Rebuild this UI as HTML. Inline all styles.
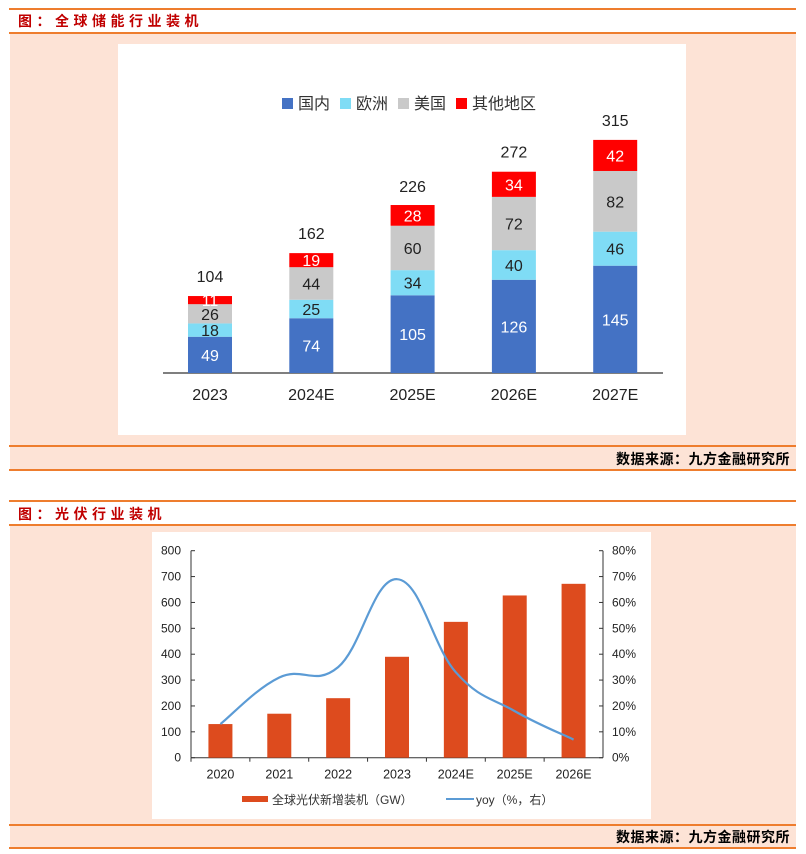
<!DOCTYPE html>
<html><head><meta charset="utf-8"><style>
body{margin:0;width:806px;height:854px;background:#fff;font-family:"Liberation Sans","Noto Sans CJK SC",sans-serif;position:relative;overflow:hidden}
.line{position:absolute;left:9px;width:787px;height:2px;background:#ee7d2e}
.title{position:absolute;left:18px;font-size:14px;font-weight:bold;color:#c00000;letter-spacing:4.5px}
.src{position:absolute;right:16px;font-size:14px;font-weight:bold;color:#000;letter-spacing:0.5px}
.pink{position:absolute;left:10px;width:786px;background:#fde3d6}
</style></head><body>
<div class="line" style="top:8px"></div>
<div class="title" style="top:11px">图：全球储能行业装机</div>
<div class="line" style="top:32px"></div>
<div class="pink" style="top:34px;height:436px"></div>
<div class="line" style="top:445px"></div>
<div class="src" style="top:449px">数据来源：九方金融研究所</div>
<div class="line" style="top:469px"></div>

<div class="line" style="top:500px"></div>
<div class="title" style="top:504px">图：光伏行业装机</div>
<div class="line" style="top:524px"></div>
<div class="pink" style="top:526px;height:322px"></div>
<div class="line" style="top:824px"></div>
<div class="src" style="top:827px">数据来源：九方金融研究所</div>
<div class="line" style="top:847px"></div>

<svg id="c1" style="position:absolute;left:118px;top:44px" width="568" height="391"></svg>
<svg id="c2" style="position:absolute;left:152px;top:532px" width="499" height="287"></svg>
<script>
const cats1=["2023","2024E","2025E","2026E","2027E"];
const dom=[49,74,105,126,145];
const eu=[18,25,34,40,46];
const us=[26,44,60,72,82];
const oth=[11,19,28,34,42];
const tot=[104,162,226,272,315];
const cats2=["2020","2021","2022","2023","2024E","2025E","2026E"];
const pv=[130,170,230,390,525,627,672];
const yoy=[13,31,35,69,33,18,7];
const yTicks=[0,100,200,300,400,500,600,700,800];
const y2Ticks=["0%","10%","20%","30%","40%","50%","60%","70%","80%"];
const NS="http://www.w3.org/2000/svg";
function mk(svg,t,a,txt){const e=document.createElementNS(NS,t);for(const k in a)e.setAttribute(k,a[k]);if(txt!==undefined)e.textContent=txt;svg.appendChild(e);return e;}
// chart 1
const s1=document.getElementById('c1');
mk(s1,'rect',{x:0,y:0,width:568,height:391,fill:'#fff'});
const base=329, k1=0.74, x1=i=>92+i*101.3, bw=44;
const y1=v=>base-v*k1;
mk(s1,'line',{x1:45,y1:base,x2:545,y2:base,stroke:'#555','stroke-width':1.5});
const series=[[dom,'#4472c4','#fff'],[eu,'#7fdcf5','#222'],[us,'#c9c9c9','#222'],[oth,'#ff0000','#fff']];
const names=['bar-domestic','bar-europe','bar-us','bar-other'];
cats1.forEach((c,i)=>{let acc=0;
 series.forEach((s,j)=>{const v=s[0][i];
  const r=mk(s1,'rect',{x:x1(i)-bw/2,y:y1(acc+v),width:bw,height:v*k1,fill:s[1]});
  
  
  mk(s1,'text',{x:x1(i),y:y1(acc+v/2)+6,'text-anchor':'middle','font-size':16,fill:s[2]},v);
  acc+=v;});
 mk(s1,'text',{x:x1(i),y:y1(tot[i])-14,'text-anchor':'middle','font-size':16,fill:'#222'},tot[i]);
 mk(s1,'text',{x:x1(i),y:base+27,'text-anchor':'middle','font-size':16,fill:'#222'},c);
});
const leg=[['国内','#4472c4'],['欧洲','#7fdcf5'],['美国','#c9c9c9'],['其他地区','#ff0000']];
let lx=164;const lw=[58,58,58,80];
leg.forEach((l,i)=>{const g=mk(s1,'rect',{x:lx,y:54,width:11,height:11,fill:l[1]});
 
 
 mk(s1,'text',{x:lx+16,y:65,'font-size':16,fill:'#333'},l[0]);lx+=lw[i];});
// chart 2
const s2=document.getElementById('c2');
mk(s2,'rect',{x:0,y:0,width:499,height:287,fill:'#fff'});
const L=39,R=451,B=225.7,H=207,cw=(R-L)/7;
const yL=v=>B-v/800*H, yR=p=>B-p/80*H, xc=i=>L+cw*(i+0.5);
mk(s2,'line',{x1:L,y1:B-H,x2:L,y2:B,stroke:'#333'});
mk(s2,'line',{x1:R,y1:B-H,x2:R,y2:B,stroke:'#333'});
mk(s2,'line',{x1:L,y1:B,x2:R,y2:B,stroke:'#333'});
yTicks.forEach((t,i)=>{mk(s2,'line',{x1:L,y1:yL(t),x2:L+4,y2:yL(t),stroke:'#333'});
 mk(s2,'text',{x:L-10,y:yL(t)+4,'text-anchor':'end','font-size':12,fill:'#222'},t);
 mk(s2,'line',{x1:R-4,y1:yL(t),x2:R,y2:yL(t),stroke:'#333'});
 mk(s2,'text',{x:R+9,y:yL(t)+4,'font-size':12,fill:'#222'},y2Ticks[i]);});
cats2.forEach((c,i)=>{
 mk(s2,'line',{x1:L+cw*i,y1:B,x2:L+cw*i,y2:B+4,stroke:'#333'});
 const r=mk(s2,'rect',{x:xc(i)-12,y:yL(pv[i]),width:24,height:B-yL(pv[i]),fill:'#dd4b1e'});
 
 
 mk(s2,'text',{x:xc(i),y:B+21,'text-anchor':'middle','font-size':12.5,fill:'#222'},c);});
const pts=yoy.map((p,i)=>[xc(i),yR(p)]);
let d='M'+pts[0][0]+','+pts[0][1];
for(let i=0;i<pts.length-1;i++){const p0=pts[Math.max(0,i-1)],p1=pts[i],p2=pts[i+1],p3=pts[Math.min(pts.length-1,i+2)];
 const t=0.2;d+=` C${p1[0]+(p2[0]-p0[0])*t},${p1[1]+(p2[1]-p0[1])*t} ${p2[0]-(p3[0]-p1[0])*t},${p2[1]-(p3[1]-p1[1])*t} ${p2[0]},${p2[1]}`;}
const ln=mk(s2,'path',{d:d,fill:'none',stroke:'#5b9bd5','stroke-width':2.2});


mk(s2,'rect',{x:90,y:264,width:26,height:6,fill:'#dd4b1e'});
mk(s2,'text',{x:120,y:272,'font-size':12,fill:'#333'},'全球光伏新增装机（GW）');
mk(s2,'line',{x1:294,y1:267,x2:322,y2:267,stroke:'#5b9bd5','stroke-width':2});
mk(s2,'text',{x:324,y:272,'font-size':12,fill:'#333'},'yoy（%，右）');
</script>
</body></html>
